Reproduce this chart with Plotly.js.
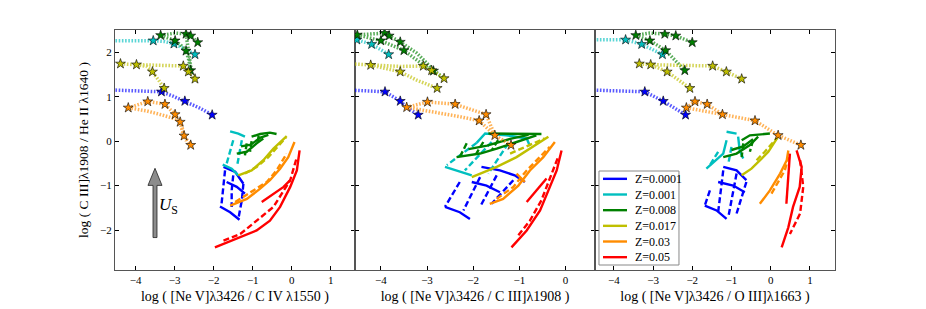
<!DOCTYPE html>
<html><head><meta charset="utf-8">
<script src="https://cdn.plot.ly/plotly-3.0.1.min.js"></script>
<style>html,body{margin:0;padding:0;background:#fff}#chart{width:926px;height:309px}</style>
</head><body><div id="chart"></div>
<script>
// ---------- labels ----------
const Z_LABELS = ['Z=0.0001','Z=0.001','Z=0.008','Z=0.017','Z=0.03','Z=0.05'];
const X_TITLES = ['log ( [Ne V]λ3426 / C IV λ1550 )','log ( [Ne V]λ3426 / C III]λ1908 )','log ( [Ne V]λ3426 / O III]λ1663 )'];
const Y_TITLE = 'log ( C III]λ1908 / He II λ1640 )';
const X_TICKS_1 = [-4,-3,-2,-1,0,1];
const X_TICKS_2 = [-4,-3,-2,-1,0];
const X_TICKS_3 = [-4,-3,-2,-1,0,1];
const Y_TICKS = [-2,-1,0,1,2];

// ---------- panel 1 : [Ne V]/C IV ----------
const p1CyanDot = [[-4.6,2.26],[-3.55,2.26],[-3.25,2.24],[-3.02,2.19],[-2.75,2.08],[-2.48,1.95]];
const p1CyanStar = [[-3.55,2.26],[-3.02,2.19],[-2.48,1.95]];
const p1GreenDot = [[-3.36,2.38],[-2.99,2.43],[-2.71,2.41],[-2.59,2.37],[-2.41,2.22],null,[-3.36,2.38],[-2.99,2.26],[-2.82,2.14],[-2.71,2.03],[-2.64,1.83],[-2.59,1.59],null,[-2.71,2.41],[-2.66,2.10],[-2.62,1.85],[-2.58,1.62]];
const p1GreenStar = [[-3.36,2.38],[-2.99,2.26],[-2.71,2.41],[-2.59,2.37],[-2.41,2.22],[-2.71,2.03],[-2.59,1.59]];
const p1YellowDot = [[-4.39,1.74],[-3.98,1.72],[-3.72,1.68],[-3.57,1.56],[-3.42,1.38],[-3.27,1.19],null,[-3.98,1.72],[-3.38,1.71],[-2.78,1.69],[-2.65,1.56],[-2.56,1.49],[-2.48,1.40]];
const p1YellowStar = [[-4.39,1.74],[-3.98,1.72],[-3.57,1.56],[-3.27,1.19],[-2.78,1.69],[-2.65,1.56],[-2.48,1.40]];
const p1BlueDot = [[-4.6,1.15],[-3.34,1.11],[-3.04,1.01],[-2.74,0.90],[-2.35,0.74],[-2.04,0.59]];
const p1BlueStar = [[-3.34,1.11],[-2.74,0.90],[-2.04,0.59]];
const p1OrangeDot = [[-4.19,0.75],[-3.69,0.89],[-3.25,0.83],[-2.99,0.60],[-2.82,0.35],[-2.76,0.12],[-2.59,-0.09],null,[-4.19,0.75],[-3.72,0.68],[-3.29,0.58],[-2.95,0.49],[-2.86,0.43],[-2.80,0.20],[-2.70,0.0]];
const p1OrangeStar = [[-4.19,0.75],[-3.69,0.89],[-3.25,0.83],[-2.99,0.60],[-2.86,0.43],[-2.76,0.12],[-2.59,-0.09]];

const p1BlueSolid = [[-1.75,-0.58],[-1.45,-0.69],[-1.24,-0.96],null,[-1.67,-0.92],[-1.41,-1.03],[-1.20,-1.18],null,[-1.84,-1.47],[-1.58,-1.60],[-1.34,-1.77]];
const p1BlueDash = [[-1.71,-0.66],[-1.75,-1.03],[-1.80,-1.41],null,[-1.50,-0.77],[-1.54,-1.11],[-1.54,-1.48],null,[-1.24,-0.96],[-1.28,-1.33],[-1.37,-1.75]];
const p1CyanSolid = [[-1.58,0.22],[-1.37,0.17],[-1.20,0.10],null,[-1.77,-0.53],[-1.54,-0.62],[-1.37,-0.77]];
const p1CyanDash = [[-1.50,0.02],[-1.58,-0.24],[-1.67,-0.51],null,[-1.28,0.02],[-1.33,-0.21],[-1.40,-0.55]];
const p1GreenSolid = [[-1.03,0.10],[-0.81,0.16],[-0.56,0.19],[-0.39,0.16],null,[-1.41,-0.28],[-1.155,-0.24],[-0.90,-0.05],[-0.73,0.06],null,[-1.30,-0.12],[-1.05,-0.08],[-0.80,0.08],[-0.60,0.14]];
const p1GreenDash = [[-1.155,-0.05],[-1.20,-0.32],null,[-1.03,0.0],[-1.07,-0.24],null,[-0.85,0.12],[-0.88,-0.08]];
const p1YellowSolid = [[-1.37,-0.77],[-1.03,-0.66],[-0.73,-0.43],[-0.47,-0.17],[-0.13,0.11]];
const p1YellowDash = [[-1.20,-0.73],[-0.90,-0.58],[-0.60,-0.36],[-0.30,-0.05],[-0.15,0.08]];
const p1OrangeSolid = [[-1.58,-1.45],[-1.15,-1.30],[-0.81,-1.07],[-0.56,-0.88],[-0.30,-0.62],[-0.09,-0.36],[0.07,-0.02]];
const p1OrangeDash = [[-1.45,-1.37],[-1.07,-1.15],[-0.64,-0.92],[-0.39,-0.66],[-0.13,-0.28]];
const p1RedSolid = [[-1.97,-2.39],[-1.41,-2.20],[-0.90,-2.01],[-0.56,-1.79],[-0.30,-1.48],[-0.04,-1.03],[0.13,-0.66],[0.20,-0.21],null,[-0.77,-1.37],[-0.47,-1.18],[-0.21,-1.03],[-0.04,-0.88]];
const p1RedDash = [[-1.75,-2.24],[-1.32,-2.09],[-0.90,-1.79],[-0.47,-1.48],[-0.04,-0.88],[0.13,-0.36]];

// ---------- panel 2 : [Ne V]/C III] ----------
const p2CyanDot = [[-4.7,2.30],[-4.52,2.28],[-4.20,2.18],[-3.83,1.95]];
const p2CyanStar = [[-4.52,2.28],[-4.20,2.18],[-3.83,1.95]];
const p2GreenDot = [[-4.51,2.39],[-3.92,2.43],[-3.82,2.37],[-3.58,2.23],[-3.22,1.98],[-2.86,1.60],[-2.63,1.41],null,[-4.51,2.39],[-4.00,2.26],[-3.50,2.04],[-3.07,1.69],[-2.88,1.56]];
const p2GreenStar = [[-4.51,2.39],[-3.92,2.43],[-3.82,2.37],[-3.58,2.23],[-4.00,2.26],[-3.50,2.04],[-2.86,1.58]];
const p2YellowDot = [[-4.7,1.74],[-4.22,1.71],[-3.58,1.68],[-3.08,1.69],[-2.90,1.59],[-2.63,1.41],null,[-4.22,1.71],[-3.58,1.56],[-3.22,1.37],[-2.78,1.19]];
const p2YellowStar = [[-4.22,1.71],[-3.58,1.56],[-3.08,1.69],[-2.90,1.59],[-2.63,1.41],[-2.78,1.19]];
const p2BlueDot = [[-4.7,1.15],[-3.91,1.11],[-3.58,0.90],[-3.44,0.76],[-3.19,0.59]];
const p2BlueStar = [[-3.91,1.11],[-3.58,0.90],[-3.19,0.59]];
const p2OrangeDot = [[-3.44,0.76],[-2.99,0.88],[-2.39,0.83],[-1.72,0.60],[-1.53,0.13],[-1.18,-0.09],null,[-3.44,0.76],[-2.86,0.66],[-2.29,0.55],[-1.87,0.46],[-1.53,0.13]];
const p2OrangeStar = [[-3.44,0.76],[-2.99,0.88],[-2.39,0.83],[-1.72,0.60],[-1.87,0.46],[-1.53,0.13],[-1.18,-0.09]];

const p2BlueSolid = [[-1.82,-0.58],[-1.42,-0.66],[-1.10,-0.77],[-0.88,-0.92],null,[-2.03,-0.92],[-1.71,-1.00],[-1.42,-1.15],null,[-2.61,-1.48],[-2.29,-1.60],[-2.07,-1.75]];
const p2BlueDash = [[-2.29,-0.92],[-2.61,-1.48],null,[-1.85,-0.81],[-2.21,-1.56],null,[-1.49,-0.77],[-1.85,-1.48],null,[-1.13,-0.88],[-1.60,-1.41]];
const p2CyanSolid = [[-1.925,-0.04],[-1.74,0.17],[-1.28,0.13],[-0.84,0.06],[-0.77,-0.11],null,[-2.61,-0.58],[-2.29,-0.69],[-2.03,-0.77]];
const p2CyanDash = [[-1.925,-0.04],[-2.57,-0.54],null,[-1.60,-0.02],[-2.18,-0.66],null,[-1.24,-0.05],[-1.67,-0.73]];
const p2GreenSolid = [[-1.67,0.17],[-1.13,0.17],[-0.52,0.16],null,[-2.36,-0.36],[-1.85,-0.28],[-1.49,-0.17],[-1.06,-0.02],[-0.63,0.13],null,[-2.10,-0.18],[-1.70,-0.10],[-1.20,0.05],[-0.80,0.14]];
const p2GreenDash = [[-2.14,-0.05],[-2.29,-0.36],null,[-1.78,-0.02],[-1.93,-0.28],null,[-1.46,0.02],[-1.60,-0.21]];
const p2YellowSolid = [[-2.03,-0.81],[-1.49,-0.58],[-1.06,-0.36],[-0.77,-0.17],[-0.37,0.10]];
const p2YellowDash = [[-1.20,-0.28],[-0.77,-0.09],[-0.45,0.06]];
const p2OrangeSolid = [[-1.64,-1.41],[-1.35,-1.30],[-1.02,-1.00],[-0.77,-0.66],[-0.48,-0.36],[-0.23,-0.02],null,[-1.06,-0.73],[-0.88,-0.92]];
const p2OrangeDash = [[-1.49,-1.30],[-1.13,-1.03],[-0.84,-0.66],[-0.55,-0.36],[-0.34,-0.13]];
const p2RedSolid = [[-1.17,-2.39],[-0.84,-2.01],[-0.55,-1.56],[-0.34,-1.03],[-0.19,-0.66],[-0.085,-0.21],null,[-0.84,-1.37],[-0.63,-1.11],[-0.41,-0.84]];
const p2RedDash = [[-1.02,-2.12],[-0.77,-1.79],[-0.52,-1.33],[-0.30,-0.73],[-0.16,-0.36]];

// ---------- panel 3 : [Ne V]/O III] ----------
const p3CyanDot = [[-4.6,2.28],[-3.70,2.28],[-3.29,2.18],[-3.00,2.05],[-2.76,1.95]];
const p3CyanStar = [[-3.70,2.28],[-3.29,2.18],[-2.76,1.95]];
const p3GreenDot = [[-3.44,2.38],[-3.08,2.43],[-2.70,2.41],[-2.42,2.37],[-2.00,2.22],null,[-3.44,2.38],[-3.08,2.26],[-2.68,2.04],[-2.44,1.83],[-2.19,1.59]];
const p3GreenStar = [[-3.44,2.38],[-2.70,2.41],[-2.42,2.37],[-2.00,2.22],[-3.08,2.26],[-2.68,2.04],[-2.19,1.59]];
const p3YellowDot = [[-3.35,1.74],[-3.06,1.72],[-2.64,1.56],[-2.36,1.38],[-2.06,1.19],null,[-3.06,1.72],[-2.23,1.71],[-1.48,1.69],[-1.13,1.56],[-0.74,1.40]];
const p3YellowStar = [[-3.35,1.74],[-3.06,1.72],[-2.64,1.56],[-2.06,1.19],[-1.48,1.69],[-1.13,1.56],[-0.74,1.40]];
const p3BlueDot = [[-4.6,1.15],[-3.21,1.11],[-2.74,0.90],[-2.17,0.59]];
const p3BlueStar = [[-3.21,1.11],[-2.74,0.90],[-2.17,0.59]];
const p3OrangeDot = [[-2.15,0.75],[-1.93,0.89],[-1.62,0.83],[-1.23,0.60],[-0.40,0.46],[0.19,0.13],[0.77,-0.09],null,[-2.15,0.75],[-1.70,0.68],[-1.23,0.60]];
const p3OrangeStar = [[-2.15,0.75],[-1.93,0.89],[-1.62,0.83],[-1.23,0.60],[-0.40,0.46],[0.19,0.13],[0.77,-0.09]];

const p3BlueSolid = [[-1.21,-0.58],[-0.87,-0.66],[-0.62,-0.88],null,[-1.34,-0.92],[-0.955,-1.00],[-0.66,-1.15],null,[-1.68,-1.45],[-1.38,-1.56],[-1.125,-1.75]];
const p3BlueDash = [[-1.55,-1.11],[-1.68,-1.45],null,[-1.21,-0.66],[-1.34,-1.60],null,[-0.87,-0.73],[-1.08,-1.71],null,[-0.62,-0.92],[-0.87,-1.63]];
const p3CyanSolid = [[-1.125,0.21],[-0.87,0.17],null,[-1.125,0.02],[-1.21,-0.28],[-1.64,-0.62],null,[-0.83,0.10],[-0.79,-0.21],[-0.70,-0.39]];
const p3CyanDash = [[-1.34,-0.24],[-1.55,-0.54],null,[-1.00,-0.13],[-1.08,-0.51]];
const p3GreenSolid = [[-0.74,0.02],[-0.53,0.13],[-0.02,0.17],null,[-1.21,-0.36],[-0.87,-0.28],[-0.53,-0.09],[-0.32,0.10],null,[-1.00,-0.20],[-0.70,-0.12],[-0.45,0.04]];
const p3GreenDash = [[-0.70,-0.05],[-0.74,-0.36],null,[-0.45,0.02],[-0.53,-0.24]];
const p3YellowSolid = [[-0.74,-0.77],[-0.49,-0.62],[-0.27,-0.43],[-0.06,-0.24],[0.19,0.10]];
const p3YellowDash = [[-0.36,-0.43],[-0.15,-0.24],[0.15,0.06]];
const p3OrangeSolid = [[-0.276,-1.41],[-0.02,-1.11],[0.24,-0.73],[0.41,-0.43],[0.45,-0.21]];
const p3OrangeDash = [[0.02,-1.18],[0.19,-0.92],[0.36,-0.66],[0.45,-0.36]];
const p3RedSolid = [[0.28,-2.39],[0.45,-1.94],[0.57,-1.48],[0.74,-1.03],[0.79,-0.58],[0.66,-0.21],null,[0.49,-0.28],[0.45,-0.88],[0.40,-1.41]];
const p3RedDash = [[0.75,-0.43],[0.83,-1.03],[0.75,-1.63],[0.49,-2.09]];

// ---------- assembly ----------
const Z_COLORS = ['#0000ff','#00bfbf','#008000','#bfbf00','#ff8c00','#ff0000'];
const PANELS = [
  {ax:['x','y'], solid:[p1BlueSolid,p1CyanSolid,p1GreenSolid,p1YellowSolid,p1OrangeSolid,p1RedSolid],
   dash:[p1BlueDash,p1CyanDash,p1GreenDash,p1YellowDash,p1OrangeDash,p1RedDash],
   dot:[p1BlueDot,p1CyanDot,p1GreenDot,p1YellowDot,p1OrangeDot,[]],
   star:[p1BlueStar,p1CyanStar,p1GreenStar,p1YellowStar,p1OrangeStar,[]]},
  {ax:['x2','y2'], solid:[p2BlueSolid,p2CyanSolid,p2GreenSolid,p2YellowSolid,p2OrangeSolid,p2RedSolid],
   dash:[p2BlueDash,p2CyanDash,p2GreenDash,p2YellowDash,p2OrangeDash,p2RedDash],
   dot:[p2BlueDot,p2CyanDot,p2GreenDot,p2YellowDot,p2OrangeDot,[]],
   star:[p2BlueStar,p2CyanStar,p2GreenStar,p2YellowStar,p2OrangeStar,[]]},
  {ax:['x3','y3'], solid:[p3BlueSolid,p3CyanSolid,p3GreenSolid,p3YellowSolid,p3OrangeSolid,p3RedSolid],
   dash:[p3BlueDash,p3CyanDash,p3GreenDash,p3YellowDash,p3OrangeDash,p3RedDash],
   dot:[p3BlueDot,p3CyanDot,p3GreenDot,p3YellowDot,p3OrangeDot,[]],
   star:[p3BlueStar,p3CyanStar,p3GreenStar,p3YellowStar,p3OrangeStar,[]]}
];
const px = pts => pts.map(p => p ? p[0] : null);
const py = pts => pts.map(p => p ? p[1] : null);

const traces = [];
PANELS.forEach((P) => {
  for (let k = 0; k < 6; k++) {
    traces.push({type:'scatter', mode:'lines', x:px(P.dash[k]), y:py(P.dash[k]), xaxis:P.ax[0], yaxis:P.ax[1],
      line:{color:Z_COLORS[k], width:2.4, dash:'6px,3px'}, showlegend:false, hoverinfo:'skip'});
    traces.push({type:'scatter', mode:'lines', x:px(P.solid[k]), y:py(P.solid[k]), xaxis:P.ax[0], yaxis:P.ax[1],
      line:{color:Z_COLORS[k], width:2.4}, name:Z_LABELS[k], showlegend:false, hoverinfo:'skip'});
  }
  for (let k = 0; k < 6; k++) {
    if (!P.dot[k].length) continue;
    traces.push({type:'scatter', mode:'lines', x:px(P.dot[k]), y:py(P.dot[k]), xaxis:P.ax[0], yaxis:P.ax[1],
      line:{color:Z_COLORS[k], width:3.5, dash:'1.6px,1.6px'}, opacity:0.65, showlegend:false, hoverinfo:'skip'});
  }
  for (let k = 0; k < 6; k++) {
    if (!P.star[k].length) continue;
    traces.push({type:'scatter', mode:'markers', x:px(P.star[k]), y:py(P.star[k]), xaxis:P.ax[0], yaxis:P.ax[1],
      marker:{symbol:'star', size:7.5, color:Z_COLORS[k], line:{color:'#000', width:0.6}}, showlegend:false, hoverinfo:'skip'});
  }
});

const FONT = 'Liberation Serif, Times New Roman, serif';
function xa(dom, range, ticks, title, anchor) {
  return {domain:dom, range:range, anchor:anchor, tickvals:ticks, ticks:'inside', ticklen:4, tickwidth:1, tickcolor:'#000',
    showline:true, linecolor:'#555', linewidth:1, mirror:'ticks', showgrid:false, zeroline:false,
    tickfont:{family:FONT, size:11, color:'#000'},
    title:{text:title, font:{family:FONT, size:14, color:'#000'}, standoff:5}};
}
function ya(anchor, labels) {
  const a = {anchor:anchor, range:[-2.9,2.5], tickvals:Y_TICKS, ticks:'inside', ticklen:4, tickwidth:1, tickcolor:'#000',
    showline:true, linecolor:'#555', linewidth:1, mirror:'ticks', showgrid:false, zeroline:false,
    showticklabels:labels, tickfont:{family:FONT, size:11, color:'#000'}};
  if (labels) a.title = {text:Y_TITLE, font:{family:FONT, size:13.5, color:'#000'}, standoff:8};
  else a.matches = 'y';
  return a;
}

// ---------- hand-built legend (paper coords inside panel 3) ----------
const LEG = {x0:0.6722, x1:0.7833, top:0.4125, bottom:0.0208};
const shapes = [{type:'rect', xref:'paper', yref:'paper', x0:LEG.x0, x1:LEG.x1, y0:LEG.bottom, y1:LEG.top,
  fillcolor:'#fff', line:{color:'#888', width:1}, layer:'above'}];
const annotations = [];
const step = (LEG.top - LEG.bottom) / Z_LABELS.length;
Z_LABELS.forEach((lab, k) => {
  const yy = LEG.top - step * (k + 0.5);
  shapes.push({type:'line', xref:'paper', yref:'paper', x0:0.6778, x1:0.7111, y0:yy, y1:yy,
    line:{color:Z_COLORS[k], width:2.4}, layer:'above'});
  annotations.push({xref:'paper', yref:'paper', x:0.7194, y:yy, xanchor:'left', yanchor:'middle', text:lab,
    showarrow:false, font:{family:FONT, size:12, color:'#000'}});
});
// U_S arrow (panel 1)
shapes.push({type:'path', xref:'x', yref:'y', layer:'above',
  path:'M -3.556,-2.17 L -3.556,-0.996 L -3.685,-0.996 L -3.505,-0.612 L -3.326,-0.996 L -3.454,-0.996 L -3.454,-2.17 Z',
  fillcolor:'#8c8c8c', line:{color:'#222', width:0.8}});
annotations.push({xref:'x', yref:'y', x:-3.17, y:-1.47, text:'<i>U</i><sub>S</sub>', showarrow:false,
  font:{family:FONT, size:17, color:'#000'}});

const layout = {
  width:926, height:309, paper_bgcolor:'#fff', plot_bgcolor:'#fff',
  margin:{l:115, r:91, t:30, b:39},
  showlegend:false,
  xaxis: xa([0,1/3],[-4.53,1.62],X_TICKS_1,X_TITLES[0],'y'),
  xaxis2: xa([1/3,2/3],[-4.56,0.64],X_TICKS_2,X_TITLES[1],'y2'),
  xaxis3: xa([2/3,1],[-4.48,1.64],X_TICKS_3,X_TITLES[2],'y3'),
  yaxis: ya('x', true),
  yaxis2: ya('x2', false),
  yaxis3: ya('x3', false),
  shapes: shapes,
  annotations: annotations
};

Plotly.newPlot('chart', traces, layout, {displayModeBar:false, staticPlot:true});
</script></body></html>
